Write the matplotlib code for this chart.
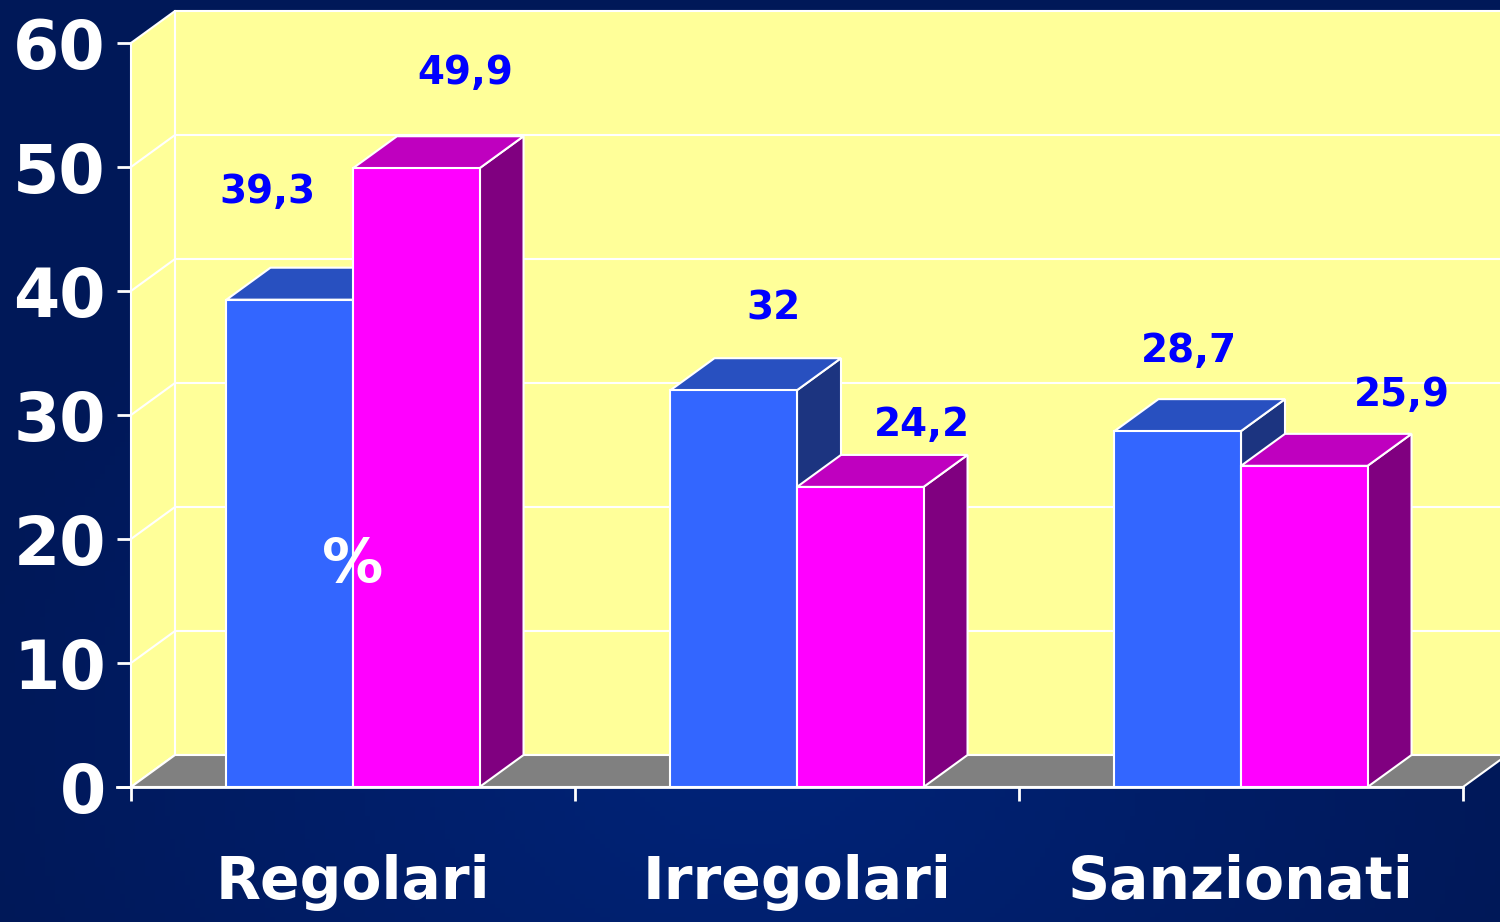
import numpy as np
import matplotlib
matplotlib.use('Agg')
import matplotlib.pyplot as plt
from matplotlib.patches import Polygon, Rectangle

# Data
categories = ['Regolari', 'Irregolari', 'Sanzionati']
series_a = [39.3, 32.0, 28.7]   # blue
series_b = [49.9, 24.2, 25.9]   # magenta
labels_a = ['39,3', '32', '28,7']
labels_b = ['49,9', '24,2', '25,9']
y_ticks = [0, 10, 20, 30, 40, 50, 60]

# label offsets (x in category units, y in value units)
off_a = [(-0.05, 8.7), (0.09, 6.6), (0.025, 6.5)]
off_b = [(0.11, 7.7), (0.14, 5.0), (0.22, 5.7)]

# Style
WALL = '#FFFF99'
FLOOR = '#808080'
BLUE = ('#3366FF', '#2850C0', '#1C3480')      # front, top, side
MAGENTA = ('#FF00FF', '#BF00BF', '#800080')
EDGE = 'white'
FONT = 'DejaVu Sans'

W, H = 1500, 922
fig = plt.figure(figsize=(W / 100, H / 100), dpi=100)

# background gradient
bg = fig.add_axes([0, 0, 1, 1], zorder=-10)
xx, yy = np.meshgrid(np.linspace(-1, 1, 300), np.linspace(-1, 1, 200))
r = np.clip(np.sqrt(xx ** 2 * 0.9 + (yy + 0.6) ** 2 * 0.5), 0, 1)
c0 = np.array([0x00, 0x24, 0x7a]) / 255
c1 = np.array([0x00, 0x18, 0x58]) / 255
img = c0[None, None, :] * (1 - r[..., None]) + c1[None, None, :] * r[..., None]
bg.imshow(img, aspect='auto', extent=[0, 1, 0, 1], origin='lower')
bg.axis('off')

# main axes: front plane
left, right = 131, 1463
bottom, top = 787, 43
ax = fig.add_axes([left / W, (H - bottom) / H, (right - left) / W, (bottom - top) / H])
xl, xr = -0.5, 2.5
ymax = 60
ax.set_xlim(xl, xr)
ax.set_ylim(0, ymax)
ax.patch.set_alpha(0)
for s in ['top', 'right']:
    ax.spines[s].set_visible(False)

# depth offset in data units
px_x = (right - left) / (xr - xl)
px_y = (bottom - top) / ymax
dx = 44 / px_x
dy = 32 / px_y

lw = 1.5
# side wall and back wall
ax.add_patch(Polygon([(xl, 0), (xl, ymax), (xl + dx, ymax + dy), (xl + dx, dy)],
                     closed=True, fc=WALL, ec='none', clip_on=False, zorder=1))
ax.add_patch(Rectangle((xl + dx, dy), xr - xl, ymax, fc=WALL, ec='none',
                       clip_on=False, zorder=1))
for v in y_ticks:
    ax.plot([xl, xl + dx, xr + dx], [v, v + dy, v + dy], color=EDGE, lw=lw,
            clip_on=False, zorder=2, solid_capstyle='butt')
ax.plot([xl + dx, xl + dx], [dy, ymax + dy], color=EDGE, lw=lw, clip_on=False, zorder=2)

# floor
ax.add_patch(Polygon([(xl, 0), (xr, 0), (xr + dx, dy), (xl + dx, dy)], closed=True,
                     fc=FLOOR, ec=EDGE, lw=lw, clip_on=False, zorder=3))


def bar3d(x0, width, v, cols, z):
    x1 = x0 + width
    ax.add_patch(Polygon([(x1, 0), (x1 + dx, dy), (x1 + dx, v + dy), (x1, v)], closed=True,
                         fc=cols[2], ec=EDGE, lw=lw, clip_on=False, zorder=z))
    ax.add_patch(Polygon([(x0, v), (x1, v), (x1 + dx, v + dy), (x0 + dx, v + dy)], closed=True,
                         fc=cols[1], ec=EDGE, lw=lw, clip_on=False, zorder=z))
    ax.add_patch(Rectangle((x0, 0), width, v, fc=cols[0], ec=EDGE, lw=lw,
                           clip_on=False, zorder=z))


bw = 0.285
for i in range(len(categories)):
    bar3d(i - bw, bw, series_a[i], BLUE, 4 + 2 * i)
    bar3d(i, bw, series_b[i], MAGENTA, 5 + 2 * i)

# value labels
for i in range(len(categories)):
    ax.text(i - bw / 2 + off_a[i][0], series_a[i] + off_a[i][1], labels_a[i],
            ha='center', va='center', color='#0000FF', fontsize=28,
            fontweight='bold', family=FONT, zorder=20, clip_on=False)
    ax.text(i + bw / 2 + off_b[i][0], series_b[i] + off_b[i][1], labels_b[i],
            ha='center', va='center', color='#0000FF', fontsize=28,
            fontweight='bold', family=FONT, zorder=20, clip_on=False)

ax.text(0, 17.9, '%', ha='center', va='center', color='white', fontsize=44,
        fontweight='bold', family=FONT, zorder=20)

# axes styling
ax.spines['left'].set_color(EDGE)
ax.spines['left'].set_linewidth(lw)
ax.spines['left'].set_zorder(2.5)
ax.spines['bottom'].set_color(EDGE)
ax.spines['bottom'].set_linewidth(2)
ax.spines['bottom'].set_bounds(xl - 14 / px_x, xr)
ax.set_yticks(y_ticks)
ax.set_yticklabels([str(v) for v in y_ticks])
ax.tick_params(axis='y', colors=EDGE, length=10, width=2, pad=8, labelsize=48)
for t in ax.get_yticklabels():
    t.set_fontweight('bold')
    t.set_family(FONT)
    t.set_color('white')

ax.set_xticks([xl + k for k in range(len(categories) + 1)])
ax.set_xticklabels([])
ax.set_xticks(range(len(categories)), minor=True)
ax.set_xticklabels(categories, minor=True)
ax.tick_params(axis='x', which='major', colors=EDGE, length=10, width=2)
ax.tick_params(axis='x', which='minor', length=0, pad=48, labelsize=42)
for t in ax.get_xticklabels(minor=True):
    t.set_fontweight('bold')
    t.set_family(FONT)
    t.set_color('white')

fig.savefig('out.png', dpi=100)
